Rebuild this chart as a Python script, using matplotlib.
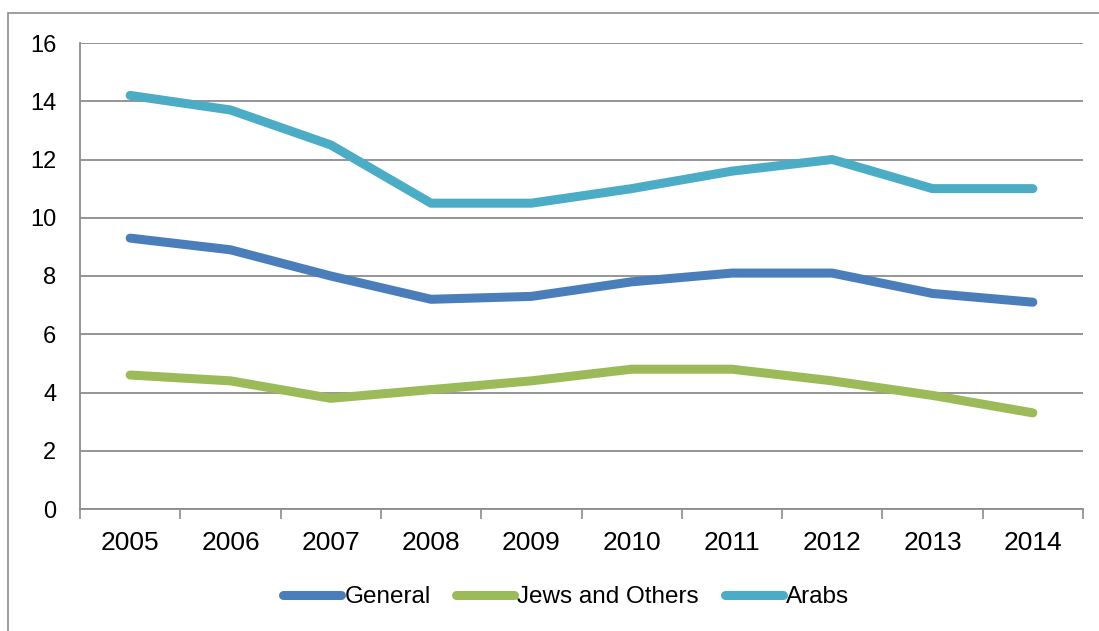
import matplotlib
matplotlib.use("Agg")
import matplotlib.pyplot as plt
from matplotlib.patches import Rectangle

years = ["2005", "2006", "2007", "2008", "2009", "2010", "2011", "2012", "2013", "2014"]
general = [9.3, 8.9, 8.0, 7.2, 7.3, 7.8, 8.1, 8.1, 7.4, 7.1]
jews_and_others = [4.6, 4.4, 3.8, 4.1, 4.4, 4.8, 4.8, 4.4, 3.9, 3.3]
arabs = [14.2, 13.7, 12.5, 10.5, 10.5, 11.0, 11.6, 12.0, 11.0, 11.0]
yticks = [0, 2, 4, 6, 8, 10, 12, 14, 16]

plt.rcParams['font.family'] = ['Liberation Sans', 'DejaVu Sans']

W, H = 1099, 631
fig = plt.figure(figsize=(W / 100, H / 100), dpi=100)
fig.patch.set_facecolor("white")

# outer frame
fig.patches.append(Rectangle((8 / W, -0.1), 1.2, 1 - 13 / H + 0.1, transform=fig.transFigure,
                             fill=False, edgecolor="#8c8c8c", linewidth=1.2))

ax = fig.add_axes([80 / W, 122 / H, 1003 / W, 466 / H])
x = list(range(len(years)))
lw = 6.5
ax.plot(x, general, color="#4A7EBB", lw=lw, solid_capstyle="round", solid_joinstyle="round", label="General", zorder=3)
ax.plot(x, jews_and_others, color="#9BBB59", lw=lw, solid_capstyle="round", solid_joinstyle="round", label="Jews and Others", zorder=3)
ax.plot(x, arabs, color="#4BACC6", lw=lw, solid_capstyle="round", solid_joinstyle="round", label="Arabs", zorder=3)

ax.set_xlim(-0.5, len(years) - 0.5)
ax.set_ylim(0, 16)
ax.set_yticks(yticks)
ax.set_yticklabels([str(v) for v in yticks], fontsize=17)
ax.set_xticks(x)
ax.set_xticklabels(years, fontsize=19)
ax.set_xticks([i - 0.5 for i in range(len(years) + 1)], minor=True)
ax.tick_params(axis="x", which="major", length=0, pad=16)
ax.tick_params(axis="x", which="minor", length=7, width=1.2, color="#8c8c8c", direction="out")
ax.tick_params(axis="y", length=0, pad=17)

ax.grid(axis="y", color="#8c8c8c", linewidth=1.3, zorder=0)
ax.set_axisbelow(True)
for s in ["top", "right"]:
    ax.spines[s].set_visible(False)
ax.spines["left"].set_color("#8c8c8c")
ax.spines["left"].set_linewidth(1.3)
ax.spines["bottom"].set_color("#8c8c8c")
ax.spines["bottom"].set_linewidth(1.3)

leg = fig.legend(loc="center", bbox_to_anchor=(566 / W, 1 - 597 / H), ncol=3, frameon=False,
                 fontsize=17.5, handlelength=2.4, handletextpad=0.12, columnspacing=1.05)
for h in leg.get_lines():
    h.set_linewidth(lw)
    h.set_solid_capstyle("round")

fig.savefig("out.png", dpi=100, facecolor="white")
